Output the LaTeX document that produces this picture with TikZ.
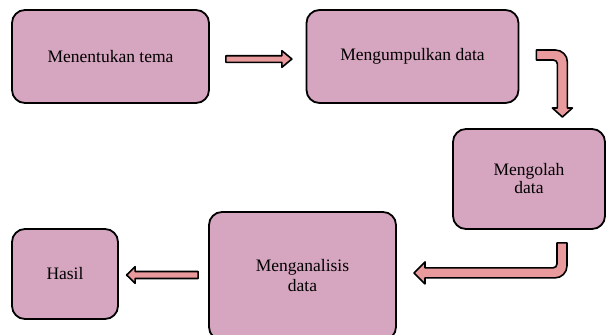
\documentclass[tikz,border=0pt]{standalone}
\usepackage{fontspec}
\setmainfont{Liberation Serif}
\usepackage{tikz}
\usetikzlibrary{calc}
\definecolor{stagepink}{HTML}{D6A5BF}
\definecolor{arrowpink}{HTML}{E99A9C}

\begin{document}
\begin{tikzpicture}[
    x=1pt, y=-1pt,
    font=\fontsize{17.5}{20}\selectfont,
    stage/.style={
		rectangle,
		rounded corners=13pt,
		draw=black,
		line width=1.8pt,
		text centered,
		align=center,
		fill=stagepink
	},
	flow/.style={
		draw=black,
		line width=1.6pt,
		line join=round,
		fill=arrowpink
	}
  ]
  \useasboundingbox (0,0) rectangle (606,335);
    % We start by placing the blocks

  \node [stage, minimum width=197pt, minimum height=93pt] (tema) at (110.5,56.5)
 {Menentukan tema};

  \node [stage, minimum width=212pt, minimum height=93pt] (kumpul) at (412.5,56.5)
 {Mengumpulkan data};

  \node [stage, minimum width=152pt, minimum height=100pt] (olah) at (529,179)
 {Mengolah\\[-2pt]data};

  \node [stage, minimum width=187pt, minimum height=128pt] (analisis) at (302.5,276)
 {Menganalisis\\data};

  \node [stage, minimum width=106pt, minimum height=90pt] (hasil) at (65,274)
 {Hasil};

 % block arrows between the blocks
 \coordinate (a1) at ($(tema.east)+(16,-0.8)$);
 \coordinate (a2) at ($(kumpul.east)+(17,-6.5)$);
 \coordinate (a3) at ($(olah.south)+(28,13)$);
 \coordinate (a4) at ($(analisis.west)+(-10,-4.5)$);

 \draw [flow] (a1) -- ++(56,0) -- ++(0,-5) -- ++(10,8.3) -- ++(-10,8.3)
   -- ++(0,-5) -- ++(-56,0) -- cycle;
 \draw [flow] (a2) -- ++(19,0) to[out=0, in=90] ++(12,12)
   -- ++(0,46) -- ++(5,0) -- ++(-10,9) -- ++(-10,-9) -- ++(5,0)
   -- ++(0,-44) to[out=90, in=0] ++(-4,-4) -- ++(-17,0) -- cycle;
 \draw [flow] (a3) -- ++(10,0) -- ++(0,23) to[out=-90, in=0] ++(-12,12)
   -- ++(-130,0) -- ++(0,6) -- ++(-11,-11) -- ++(11,-11) -- ++(0,6)
   -- ++(128,0) to[out=0, in=-90] ++(4,-4) -- cycle;
 \draw [flow] (a4) -- ++(-63,0) -- ++(0,-4.8) -- ++(-8.5,8.3) -- ++(8.5,8.3)
   -- ++(0,-4.8) -- ++(63,0) -- cycle;

\end{tikzpicture}
\end{document}
